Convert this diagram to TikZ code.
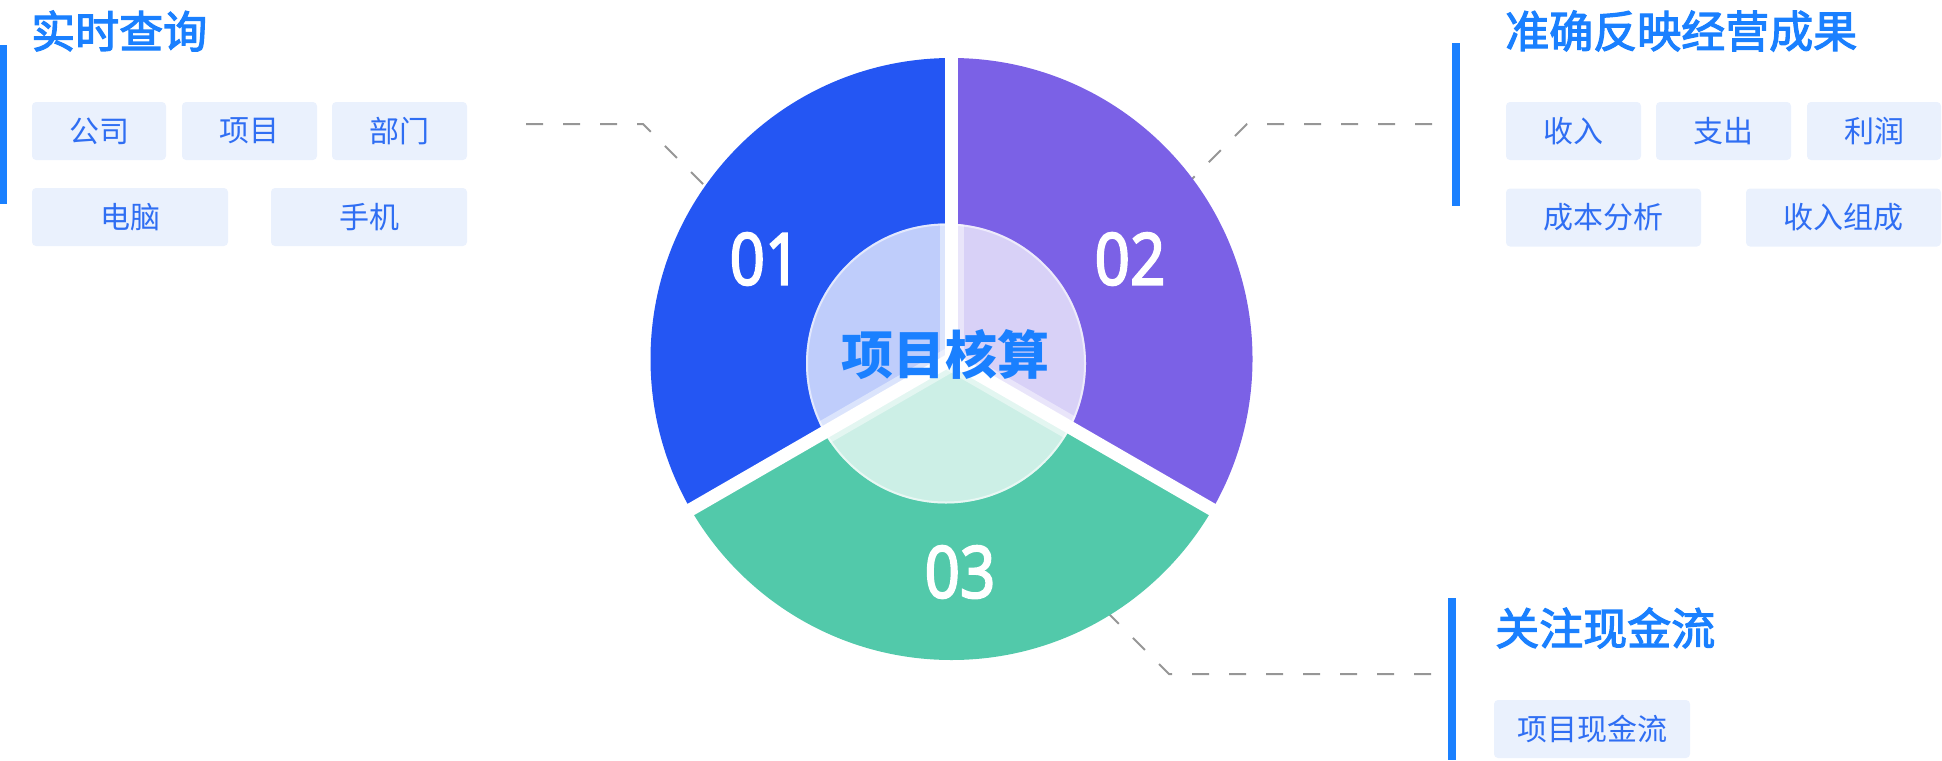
\documentclass[tikz,border=0pt]{standalone}
\usepackage{fontspec}
\usepackage{graphicx}
\newfontfamily\cjk{Noto Sans CJK SC}
\newfontfamily\cjkmid[FakeBold=2.6]{Noto Sans CJK SC}
\newfontfamily\digitfont[FakeBold=2.6]{Noto Sans}
\definecolor{pieblue}{RGB}{36,86,243}
\definecolor{piepurple}{RGB}{123,97,230}
\definecolor{piegreen}{RGB}{82,201,170}
\definecolor{titleblue}{RGB}{26,128,255}
\definecolor{tagbg}{RGB}{234,241,253}
\definecolor{tagtext}{RGB}{47,110,243}
\definecolor{dashgray}{RGB}{150,150,150}
\begin{document}
\begin{tikzpicture}[x=1pt,y=-1pt,
  tagbox/.style={fill=tagbg, rounded corners=4pt, inner sep=0pt, text=tagtext,
    font=\cjk\fontsize{30}{36}\selectfont, minimum height=58pt, anchor=center},
  titletext/.style={inner sep=0pt, anchor=west, text=titleblue,
    font=\cjkmid\fontsize{44}{50}\selectfont},
  numtext/.style={inner sep=0pt, text=white, font=\digitfont\fontsize{72}{72}\selectfont},
  dashline/.style={draw=dashgray, line width=2pt, dash pattern=on 17pt off 20pt},
  sidebar/.style={fill=titleblue}
]
\useasboundingbox (0,0) rectangle (1942,760);

% side bars
\fill[sidebar] (0,45) rectangle (7,204);
\fill[sidebar] (1452,43) rectangle (1460,206);
\fill[sidebar] (1448,598) rectangle (1456,760);

% titles
\node[titletext] (t1) at (31,31) {实时查询};
\node[titletext] (t2) at (1505,31) {准确反映经营成果};
\node[titletext] (t3) at (1495,628) {关注现金流};

% tags left
\node[tagbox, minimum width=134pt] (a1) at (99,131) {公司};
\node[tagbox, minimum width=135pt] (a2) at (249.5,131) {项目};
\node[tagbox, minimum width=135pt] (a3) at (399.5,131) {部门};
\node[tagbox, minimum width=196pt] (a4) at (130,217) {电脑};
\node[tagbox, minimum width=196pt] (a5) at (369,217) {手机};
% tags right
\node[tagbox, minimum width=135pt] (b1) at (1573.5,131) {收入};
\node[tagbox, minimum width=135pt] (b2) at (1723.5,131) {支出};
\node[tagbox, minimum width=134pt] (b3) at (1874,131) {利润};
\node[tagbox, minimum width=195pt] (b4) at (1603.5,217.5) {成本分析};
\node[tagbox, minimum width=195pt] (b5) at (1843.5,217.5) {收入组成};
% tag bottom
\node[tagbox, minimum width=196pt] (c1) at (1592,729) {项目现金流};

% dashed connectors
\coordinate (l1) at (526,124); \coordinate (l2) at (643,124); \coordinate (l3) at (760,241);
\coordinate (r1) at (1432,124); \coordinate (r2) at (1247,124); \coordinate (r3) at (1130,241);
\coordinate (d1) at (1431,674); \coordinate (d2) at (1169,674); \coordinate (d3) at (1080,585);
\draw[dashline] (l1) -- (l2) -- (l3);
\draw[dashline] (r1) -- (r2) -- (r3);
\draw[dashline] (d1) -- (d2) -- (d3);

% pie
\coordinate (C) at (951.5,359);
\begin{scope}
  \clip (C) circle (301);
  \fill[pieblue] (C) -- (951.5,-50) -- (550,-50) -- (550,590.8) -- cycle;
  \fill[piepurple] (C) -- (951.5,-50) -- (1353,-50) -- (1353,590.8) -- cycle;
  \fill[piegreen] (C) -- (550,590.8) -- (550,760) -- (1353,760) -- (1353,590.8) -- cycle;
\end{scope}
\draw[white, line width=13pt, line cap=round] (C) -- ++(0,-330);
\draw[white, line width=13pt, line cap=round] (C) -- ++(-285.8,165);
\draw[white, line width=13pt, line cap=round] (C) -- ++(285.8,165);

% glass
\coordinate (G) at (946,363.5);
\begin{scope}
  \clip (G) circle (140);
  \draw[white, opacity=0.45, line width=24pt] (C) -- ++(0,-330);
  \draw[white, opacity=0.45, line width=24pt] (C) -- ++(-285.8,165);
  \draw[white, opacity=0.45, line width=24pt] (C) -- ++(285.8,165);
\end{scope}
\fill[white, fill opacity=0.71] (G) circle (140);
\draw[white, opacity=0.55, line width=2pt] (G) circle (139);

% numbers
\node[numtext] (n1) at (765,259) {\scalebox{0.86}[1]{01}};
\node[numtext] (n2) at (1130,259) {\scalebox{0.86}[1]{02}};
\node[numtext] (n3) at (960,572) {\scalebox{0.86}[1]{03}};

% center text
\node[inner sep=0pt, text=titleblue, font=\cjk\bfseries\fontsize{52}{60}\selectfont] (core) at (945.5,355) {项目核算};
\end{tikzpicture}
\end{document}
